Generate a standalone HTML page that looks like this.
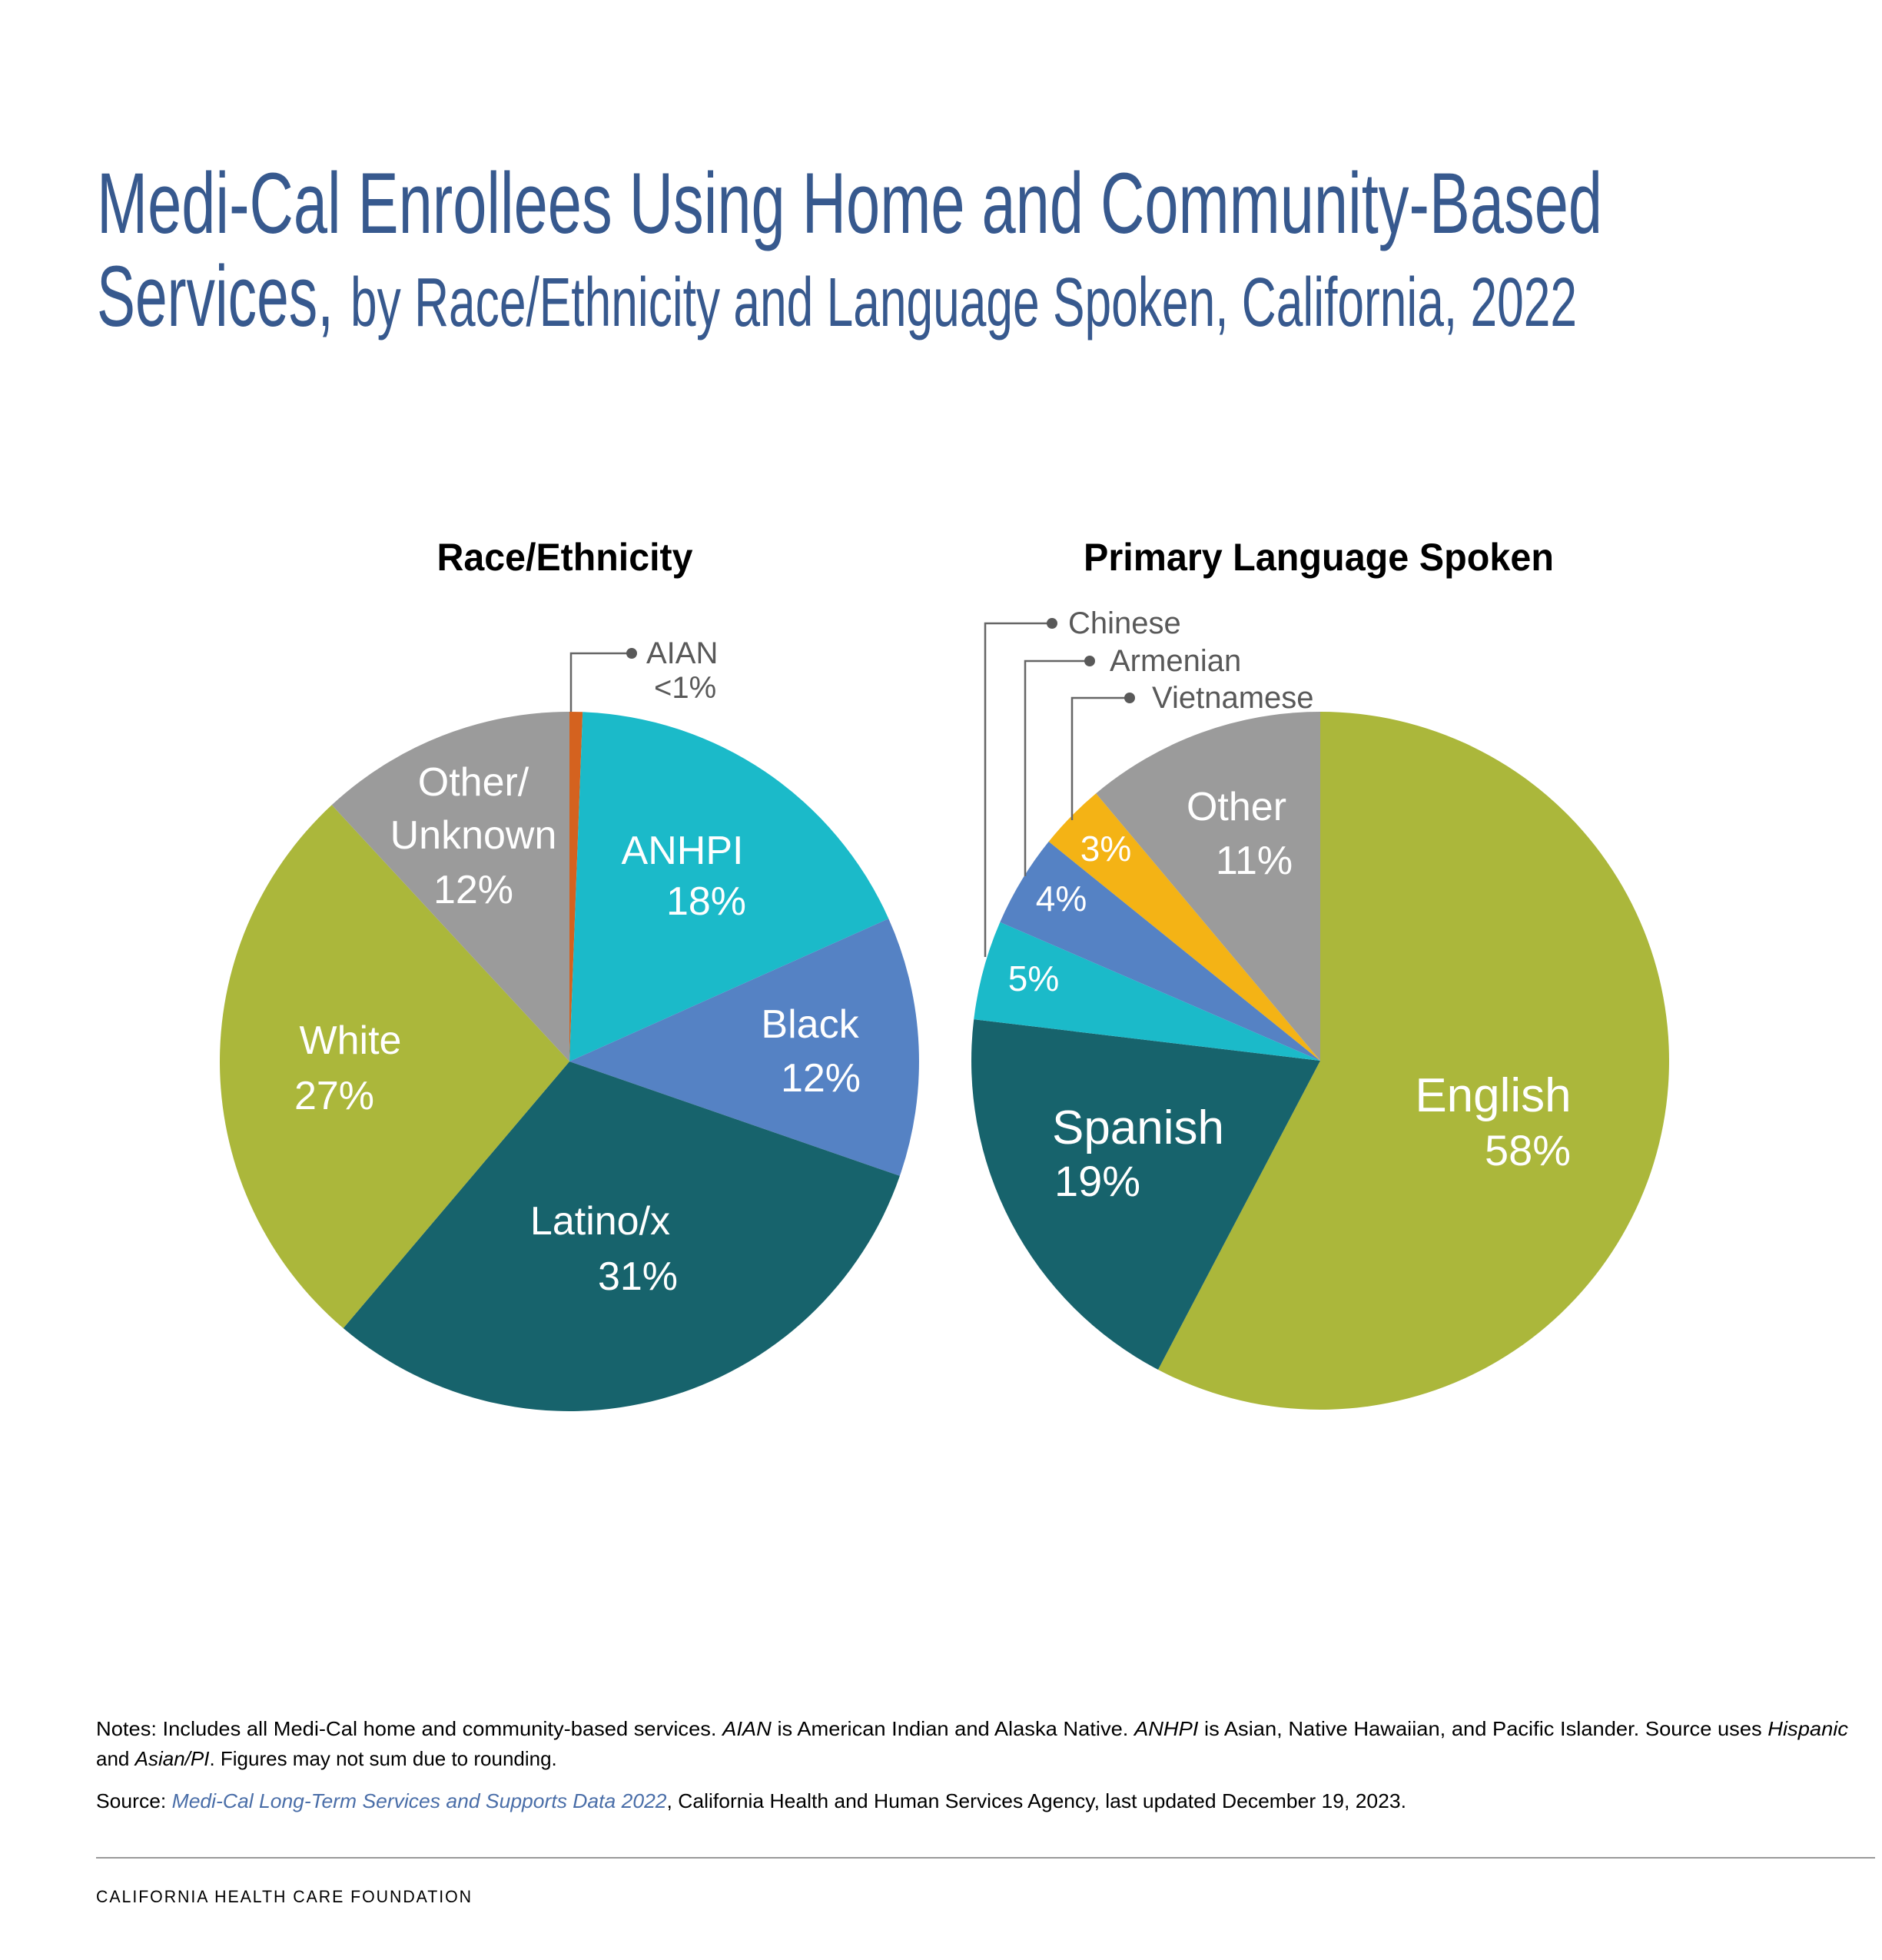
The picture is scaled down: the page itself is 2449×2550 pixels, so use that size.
<!DOCTYPE html>
<html><head><meta charset="utf-8"><style>
html,body{margin:0;padding:0;background:#fff}
svg{display:block}
.t{font-family:"Liberation Sans Narrow","Liberation Sans",sans-serif;fill:#37598e}
.w{font-family:"Liberation Sans",sans-serif;fill:#fff}
.g{font-family:"Liberation Sans",sans-serif;fill:#595959}
.k{font-family:"Liberation Sans",sans-serif;fill:#000}
</style></head><body>
<svg width="2449" height="2550" viewBox="0 0 2449 2550" xmlns="http://www.w3.org/2000/svg">
<rect width="2449" height="2550" fill="#fff"/>
<text class="t" x="126" y="303" font-size="112" textLength="1959" lengthAdjust="spacingAndGlyphs">Medi-Cal Enrollees Using Home and Community-Based</text>
<text class="t" x="126" y="424" font-size="112" textLength="308" lengthAdjust="spacingAndGlyphs">Services,</text>
<text class="t" x="456" y="424" font-size="90" textLength="1596" lengthAdjust="spacingAndGlyphs">by Race/Ethnicity and Language Spoken, California, 2022</text>

<g transform="translate(4,5)">
<text class="k" x="731" y="737" font-size="50" font-weight="bold" text-anchor="middle" textLength="333" lengthAdjust="spacingAndGlyphs">Race/Ethnicity</text>
<text class="k" x="1712" y="737" font-size="50" font-weight="bold" text-anchor="middle" textLength="612" lengthAdjust="spacingAndGlyphs">Primary Language Spoken</text>
</g>

<g transform="translate(4,6)">
<!-- Left pie -->
<path d="M737,1375 L737,920 A455,455 0 0 1 754.2,920.3 Z" fill="#d4621f"/>
<path d="M737,1375 L754.2,920.3 A455,455 0 0 1 1152.3,1189.2 Z" fill="#1bbac9"/>
<path d="M737,1375 L1152.3,1189.2 A455,455 0 0 1 1166.9,1523.9 Z" fill="#5582c4"/>
<path d="M737,1375 L1166.9,1523.9 A455,455 0 0 1 442.7,1722 Z" fill="#17636c"/>
<path d="M737,1375 L442.7,1722 A455,455 0 0 1 427.7,1041.3 Z" fill="#abb73b"/>
<path d="M737,1375 L427.7,1041.3 A455,455 0 0 1 737,920 Z" fill="#9b9b9b"/>

<g class="w" font-size="52" text-anchor="middle">
<text x="612" y="1029">Other/</text>
<text x="612" y="1098">Unknown</text>
<text x="612" y="1169">12%</text>
<text x="884" y="1118">ANHPI</text>
<text x="915" y="1184">18%</text>
<text x="1050" y="1344">Black</text>
<text x="1064" y="1414">12%</text>
<text x="452" y="1365">White</text>
<text x="431" y="1437">27%</text>
<text x="777" y="1600">Latino/x</text>
<text x="826" y="1672">31%</text>
</g>
<polyline points="818,844 739,844 739,920" fill="none" stroke="#666" stroke-width="2.5"/>
<circle cx="818" cy="844" r="7" fill="#595959"/>
<text class="g" x="837" y="857" font-size="40">AIAN</text>
<text class="g" x="847" y="902" font-size="40">&lt;1%</text>

<!-- Right pie -->
<path d="M1714,1374 L1714,920 A454,454 0 1 1 1503,1776 Z" fill="#abb73b"/>
<path d="M1714,1374 L1503,1776 A454,454 0 0 1 1263.2,1320.2 Z" fill="#17636c"/>
<path d="M1714,1374 L1263.2,1320.2 A454,454 0 0 1 1297.3,1193.7 Z" fill="#1bbac9"/>
<path d="M1714,1374 L1297.3,1193.7 A454,454 0 0 1 1360.7,1088.9 Z" fill="#5582c4"/>
<path d="M1714,1374 L1360.7,1088.9 A454,454 0 0 1 1422.2,1026.2 Z" fill="#f4b315"/>
<path d="M1714,1374 L1422.2,1026.2 A454,454 0 0 1 1714,920 Z" fill="#9b9b9b"/>

<g class="w" text-anchor="middle">
<text x="1605" y="1061" font-size="52">Other</text>
<text x="1628" y="1131" font-size="52">11%</text>
<text x="1435" y="1114" font-size="46">3%</text>
<text x="1377" y="1179" font-size="46">4%</text>
<text x="1341" y="1283" font-size="46">5%</text>
<text x="1477" y="1482" font-size="62">Spanish</text>
<text x="1424" y="1550" font-size="56">19%</text>
<text x="1939" y="1440" font-size="62">English</text>
<text x="1984" y="1510" font-size="56">58%</text>
</g>
<g fill="none" stroke="#666" stroke-width="2.5">
<polyline points="1365,805 1278,805 1278,1239"/>
<polyline points="1414,854 1330,854 1330,1134"/>
<polyline points="1466,902 1391,902 1391,1061"/>
</g>
<circle cx="1365" cy="805" r="7" fill="#595959"/>
<circle cx="1414" cy="854" r="7" fill="#595959"/>
<circle cx="1466" cy="902" r="7" fill="#595959"/>
<text class="g" x="1386" y="818" font-size="40">Chinese</text>
<text class="g" x="1440" y="867" font-size="40">Armenian</text>
<text class="g" x="1495" y="915" font-size="40">Vietnamese</text>
</g>

<!-- Notes -->
<g class="k" font-size="26" fill="#222">
<text x="125" y="2258" textLength="2280" lengthAdjust="spacingAndGlyphs">Notes: Includes all Medi-Cal home and community-based services. <tspan font-style="italic">AIAN</tspan> is American Indian and Alaska Native. <tspan font-style="italic">ANHPI</tspan> is Asian, Native Hawaiian, and Pacific Islander. Source uses <tspan font-style="italic">Hispanic</tspan></text>
<text x="125" y="2297">and <tspan font-style="italic">Asian/PI</tspan>. Figures may not sum due to rounding.</text>
<text x="125" y="2352" textLength="1705" lengthAdjust="spacingAndGlyphs">Source: <tspan font-style="italic" fill="#4a6ea8">Medi-Cal Long-Term Services and Supports Data 2022</tspan>, California Health and Human Services Agency, last updated December 19, 2023.</text>
</g>
<line x1="125" y1="2417" x2="2440" y2="2417" stroke="#9a9a9a" stroke-width="2"/>
<text class="k" x="125" y="2475" font-size="22" fill="#333" letter-spacing="2" textLength="490" lengthAdjust="spacingAndGlyphs">CALIFORNIA HEALTH CARE FOUNDATION</text>
</svg>
</body></html>
